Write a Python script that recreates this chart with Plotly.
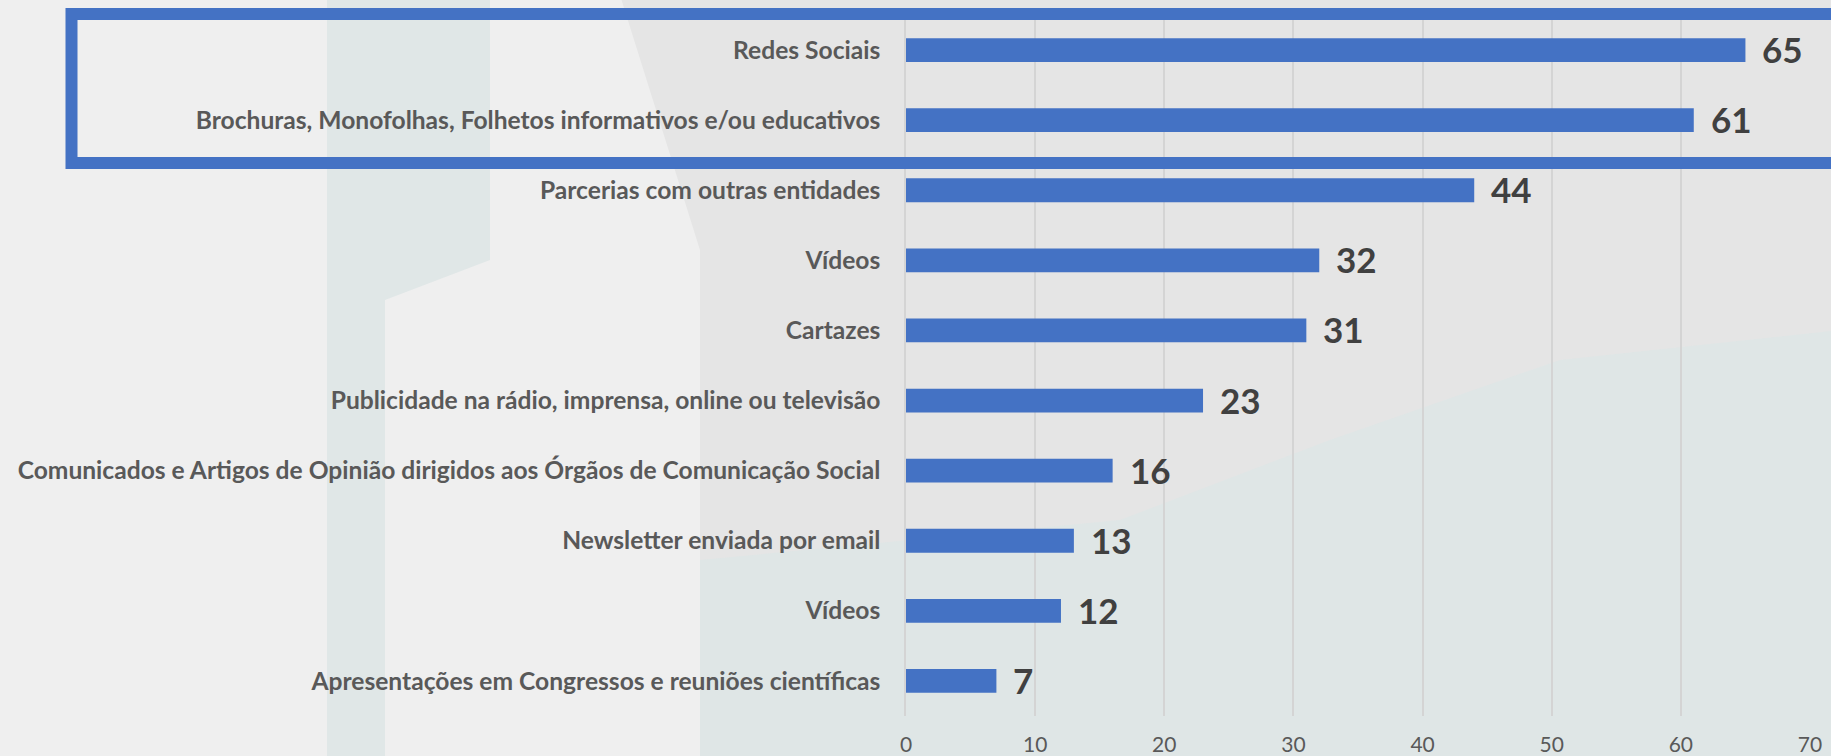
import plotly.graph_objects as go

categories = [
    "Redes Sociais",
    "Brochuras, Monofolhas, Folhetos informativos e/ou educativos",
    "Parcerias com outras entidades",
    "Vídeos",
    "Cartazes",
    "Publicidade na rádio, imprensa, online ou televisão",
    "Comunicados e Artigos de Opinião dirigidos aos Órgãos de Comunicação Social",
    "Newsletter enviada por email",
    "Vídeos",
    "Apresentações em Congressos e reuniões científicas",
]
values = [65, 61, 44, 32, 31, 23, 16, 13, 12, 7]
x_ticks = [0, 10, 20, 30, 40, 50, 60, 70]

positions = list(range(len(categories)))

BLUE = "#4472C4"
LABEL_FONT = "Lato"

fig = go.Figure()
fig.add_trace(go.Bar(
    x=values,
    y=positions,
    orientation="h",
    width=0.34,
    marker=dict(color=BLUE, line=dict(width=0)),
    hoverinfo="x+y",
    showlegend=False,
))

annotations = []
for p, v in zip(positions, values):
    annotations.append(dict(
        x=v, y=p, xref="x", yref="y",
        text=f"<b>{v}</b>", showarrow=False,
        xanchor="left", yanchor="middle", xshift=15, yshift=1,
        font=dict(family=LABEL_FONT, size=35, color="#404040"),
    ))

W, H = 1831, 756
plot_l, plot_r, plot_t, plot_b = 906, 1810, 15, 716


def px_to_paper(x, y):
    return ((x - plot_l) / (plot_r - plot_l), (plot_b - y) / (plot_b - plot_t))


def poly(points, color):
    pts = [px_to_paper(x, y) for x, y in points]
    path = "M " + " L ".join(f"{a:.4f},{b:.4f}" for a, b in pts) + " Z"
    return dict(type="path", xref="paper", yref="paper", layer="below",
                path=path, fillcolor=color, line=dict(width=0))


bg_shapes = [
    poly([(620, -5), (1840, -5), (1840, 335), (1560, 365), (1330, 445), (1120, 525), (840, 565), (700, 565), (700, 250)], "#e5e5e5"),
    poly([(700, 560), (1120, 520), (1330, 440), (1560, 360), (1840, 330), (1840, 765), (700, 765)], "#dfe6e6"),
    poly([(327, -5), (490, -5), (490, 260), (385, 300), (385, 765), (327, 765)], "#e0e7e7"),
]

box = dict(type="rect", xref="paper", yref="paper", layer="above",
           x0=px_to_paper(71.5, 0)[0], x1=px_to_paper(1860, 0)[0],
           y0=px_to_paper(0, 163)[1], y1=px_to_paper(0, 14)[1],
           line=dict(color=BLUE, width=12), fillcolor="rgba(0,0,0,0)")

fig.update_layout(
    width=W, height=H,
    margin=dict(l=plot_l, r=W - plot_r, t=plot_t, b=H - plot_b, pad=0, autoexpand=False),
    paper_bgcolor="#efefef",
    plot_bgcolor="rgba(0,0,0,0)",
    annotations=annotations,
    shapes=bg_shapes + [box],
    xaxis=dict(
        range=[0, 70], tickvals=x_ticks, ticktext=[str(t) for t in x_ticks],
        showgrid=True, gridcolor="#d4d4d4", gridwidth=1.5,
        zeroline=False, showline=False, automargin=False,
        ticks="", ticklabelstandoff=14,
        tickfont=dict(family=LABEL_FONT, size=21, color="#595959"),
        fixedrange=True,
    ),
    yaxis=dict(
        tickvals=positions, ticktext=categories,
        range=[len(categories) - 0.5, -0.5],
        showgrid=False, zeroline=False, automargin=False,
        showline=True, linecolor="#d4d4d4", linewidth=1.5,
        ticks="", ticklabelstandoff=19,
        tickfont=dict(family=LABEL_FONT, size=24.6, color="#595959", weight="bold"),
        fixedrange=True,
    ),
)

fig.write_html(
    "out.html",
    config={"displayModeBar": False},
    post_script="document.body.style.margin='0';document.body.style.overflow='hidden';",
)
